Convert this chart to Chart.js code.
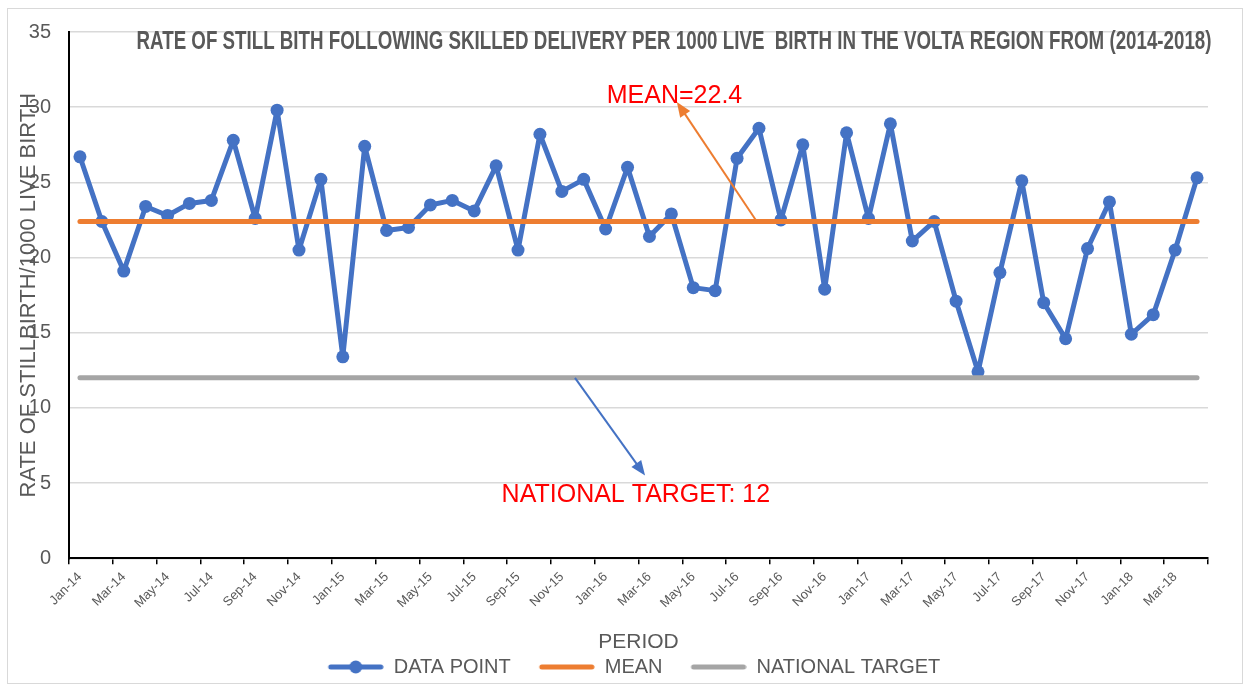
<!DOCTYPE html>
<html>
<head>
<meta charset="utf-8">
<script src="https://cdn.jsdelivr.net/npm/chart.js@4.4.1/dist/chart.umd.min.js"></script>
<style>
  html, body { margin: 0; padding: 0; background: #fff; }
  #wrap { width: 1250px; height: 691px; position: relative; }
</style>
</head>
<body>
<div id="wrap"><canvas id="stillbirthChart" width="1250" height="691"></canvas></div>
<script>
const periods = [
    "Jan-14", "Feb-14", "Mar-14", "Apr-14", "May-14", "Jun-14", "Jul-14", "Aug-14", "Sep-14", "Oct-14", "Nov-14", "Dec-14",
    "Jan-15", "Feb-15", "Mar-15", "Apr-15", "May-15", "Jun-15", "Jul-15", "Aug-15", "Sep-15", "Oct-15", "Nov-15", "Dec-15",
    "Jan-16", "Feb-16", "Mar-16", "Apr-16", "May-16", "Jun-16", "Jul-16", "Aug-16", "Sep-16", "Oct-16", "Nov-16", "Dec-16",
    "Jan-17", "Feb-17", "Mar-17", "Apr-17", "May-17", "Jun-17", "Jul-17", "Aug-17", "Sep-17", "Oct-17", "Nov-17", "Dec-17",
    "Jan-18", "Feb-18", "Mar-18", "Apr-18"
];

const dataPoint = [
    26.7, 22.4, 19.1, 23.4, 22.8, 23.6, 23.8, 27.8, 22.6, 29.8, 20.5, 25.2,
    13.4, 27.4, 21.8, 22.0, 23.5, 23.8, 23.1, 26.1, 20.5, 28.2, 24.4, 25.2,
    21.9, 26.0, 21.4, 22.9, 18.0, 17.8, 26.6, 28.6, 22.5, 27.5, 17.9, 28.3,
    22.6, 28.9, 21.1, 22.4, 17.1, 12.4, 19.0, 25.1, 17.0, 14.6, 20.6, 23.7,
    14.9, 16.2, 20.5, 25.3
];

const MEAN = 22.4;
const NATIONAL_TARGET = 12;
const yTicks = [0, 5, 10, 15, 20, 25, 30, 35];

const BLUE = "#4472c4";
const ORANGE = "#ed7d31";
const GRAY = "#a5a5a5";
const TEXT = "#595959";

// legend icons: empty gap on the left, then line (+ marker) like excel
function legendIcon(color, withDot) {
    const c = document.createElement("canvas");
    c.width = 80;
    c.height = 16;
    const g = c.getContext("2d");
    g.strokeStyle = color;
    g.lineWidth = 5;
    g.lineCap = "round";
    g.beginPath();
    g.moveTo(27, 8);
    g.lineTo(77, 8);
    g.stroke();
    if (withDot) {
        g.fillStyle = color;
        g.beginPath();
        g.arc(52, 8, 6.5, 0, Math.PI * 2);
        g.fill();
    }
    return c;
}
const legendIcons = [legendIcon(BLUE, true), legendIcon(ORANGE, false), legendIcon(GRAY, false)];

function arrow(ctx, x1, y1, x2, y2, color) {
    const ang = Math.atan2(y2 - y1, x2 - x1);
    const head = 15;
    ctx.save();
    ctx.strokeStyle = color;
    ctx.fillStyle = color;
    ctx.lineWidth = 2;
    ctx.beginPath();
    ctx.moveTo(x1, y1);
    ctx.lineTo(x2 - Math.cos(ang) * head * 0.8, y2 - Math.sin(ang) * head * 0.8);
    ctx.stroke();
    ctx.beginPath();
    ctx.moveTo(x2, y2);
    ctx.lineTo(x2 - head * Math.cos(ang) + 6 * Math.sin(ang), y2 - head * Math.sin(ang) - 6 * Math.cos(ang));
    ctx.lineTo(x2 - head * Math.cos(ang) - 6 * Math.sin(ang), y2 - head * Math.sin(ang) + 6 * Math.cos(ang));
    ctx.closePath();
    ctx.fill();
    ctx.restore();
}

const decorations = {
    id: "decorations",
    afterLayout(chart) {
        // the legend sits a bit right of centre in the original
        if (chart.legend) {
            chart.legend.left += 12;
            chart.legend.right += 12;
        }
    },
    beforeDraw(chart) {
        const ctx = chart.ctx;
        ctx.save();
        ctx.fillStyle = "#fff";
        ctx.fillRect(0, 0, chart.width, chart.height);
        ctx.strokeStyle = "#d9d9d9";
        ctx.lineWidth = 1;
        ctx.strokeRect(7.5, 8.5, 1235, 675);
        ctx.restore();
    },
    afterDraw(chart) {
        const ctx = chart.ctx;
        const x = chart.scales.x;
        const y = chart.scales.y;

        // title, squeezed like the narrow font in the original
        ctx.save();
        ctx.font = "bold 26px 'Liberation Sans Narrow', 'Liberation Sans', sans-serif";
        ctx.fillStyle = TEXT;
        ctx.textBaseline = "alphabetic";
        ctx.textAlign = "center";
        const title = "RATE OF STILL BITH FOLLOWING SKILLED DELIVERY PER 1000 LIVE  BIRTH IN THE VOLTA REGION FROM (2014-2018)";
        const w = ctx.measureText(title).width;
        ctx.translate(674, 49);
        ctx.scale(1075 / w, 1);
        ctx.fillText(title, 0, 0);
        ctx.restore();

        // mean callout
        arrow(ctx, x.getPixelForValue(30.9), y.getPixelForValue(MEAN), x.getPixelForValue(27.25), y.getPixelForValue(30.35), ORANGE);
        // national target callout
        arrow(ctx, x.getPixelForValue(22.6), y.getPixelForValue(NATIONAL_TARGET), x.getPixelForValue(25.8), y.getPixelForValue(5.5), BLUE);

        ctx.save();
        ctx.fillStyle = "#ff0000";
        ctx.font = "25px 'Liberation Sans', sans-serif";
        ctx.textAlign = "left";
        ctx.textBaseline = "alphabetic";
        ctx.fillText("MEAN=22.4", x.getPixelForValue(24.05), y.getPixelForValue(30.3));
        ctx.fillText("NATIONAL TARGET: 12", x.getPixelForValue(19.25), y.getPixelForValue(3.75));
        ctx.restore();
    }
};

const ctx = document.getElementById("stillbirthChart").getContext("2d");

new Chart(ctx, {
    type: "line",
    data: {
        labels: periods,
        datasets: [{
            label: "DATA POINT",
            data: dataPoint,
            borderColor: BLUE,
            backgroundColor: BLUE,
            borderWidth: 5,
            borderJoinStyle: "round",
            pointRadius: 6.5,
            pointHoverRadius: 6.5,
            pointBorderWidth: 0,
            tension: 0,
            order: 3
        }, {
            label: "MEAN",
            data: [{ x: periods[0], y: MEAN }, { x: periods[periods.length - 1], y: MEAN }],
            borderColor: ORANGE,
            backgroundColor: ORANGE,
            borderWidth: 5,
            borderCapStyle: "round",
            pointRadius: 0,
            order: 1
        }, {
            label: "NATIONAL TARGET",
            data: [{ x: periods[0], y: NATIONAL_TARGET }, { x: periods[periods.length - 1], y: NATIONAL_TARGET }],
            borderColor: GRAY,
            backgroundColor: GRAY,
            borderWidth: 5,
            borderCapStyle: "round",
            pointRadius: 0,
            order: 2
        }]
    },
    options: {
        responsive: false,
        animation: false,
        layout: {
            padding: { left: 12, right: 42, top: 32, bottom: 4 }
        },
        scales: {
            x: {
                type: "category",
                offset: true,
                grid: {
                    offset: true,
                    drawOnChartArea: false,
                    drawTicks: true,
                    tickLength: 6,
                    lineWidth: 1.5,
                    color: c => (c.index === undefined || c.index % 2 === 0) ? "#000" : "rgba(0,0,0,0)"
                },
                border: { display: true, color: "#000", width: 2 },
                ticks: {
                    autoSkip: false,
                    minRotation: 45,
                    maxRotation: 45,
                    padding: 5,
                    color: TEXT,
                    font: { family: "'Liberation Sans', sans-serif", size: 13 },
                    callback: function (value, index) {
                        return index % 2 === 0 ? this.getLabelForValue(value) : "";
                    }
                },
                title: {
                    display: true,
                    text: "PERIOD",
                    color: TEXT,
                    font: { family: "'Liberation Sans', sans-serif", size: 21, lineHeight: 1 },
                    padding: { top: 16, bottom: 0 }
                }
            },
            y: {
                min: 0,
                max: 35,
                afterFit: scale => { scale.width = 57; },
                afterBuildTicks: scale => { scale.ticks = yTicks.map(v => ({ value: v })); },
                grid: {
                    color: "#d9d9d9",
                    lineWidth: 1.5,
                    drawTicks: false
                },
                border: { display: true, color: "#000", width: 2 },
                ticks: {
                    padding: 18,
                    color: TEXT,
                    font: { family: "'Liberation Sans', sans-serif", size: 20 }
                },
                title: {
                    display: true,
                    text: "RATE OF STILLBIRTH/1000 LIVE BIRTH",
                    color: TEXT,
                    font: { family: "'Liberation Sans', sans-serif", size: 22 },
                    padding: { top: 4, bottom: 0 }
                }
            }
        },
        plugins: {
            title: { display: false },
            tooltip: { enabled: false },
            legend: {
                position: "bottom",
                labels: {
                    usePointStyle: true,
                    pointStyleWidth: 80,
                    padding: 4,
                    color: TEXT,
                    font: { family: "'Liberation Sans', sans-serif", size: 20 },
                    sort: (a, b) => a.datasetIndex - b.datasetIndex,
                    generateLabels: function (chart) {
                        const items = Chart.defaults.plugins.legend.labels.generateLabels(chart);
                        items.forEach(item => { item.pointStyle = legendIcons[item.datasetIndex]; });
                        return items;
                    }
                }
            }
        }
    },
    plugins: [decorations]
});
</script>
</body>
</html>
